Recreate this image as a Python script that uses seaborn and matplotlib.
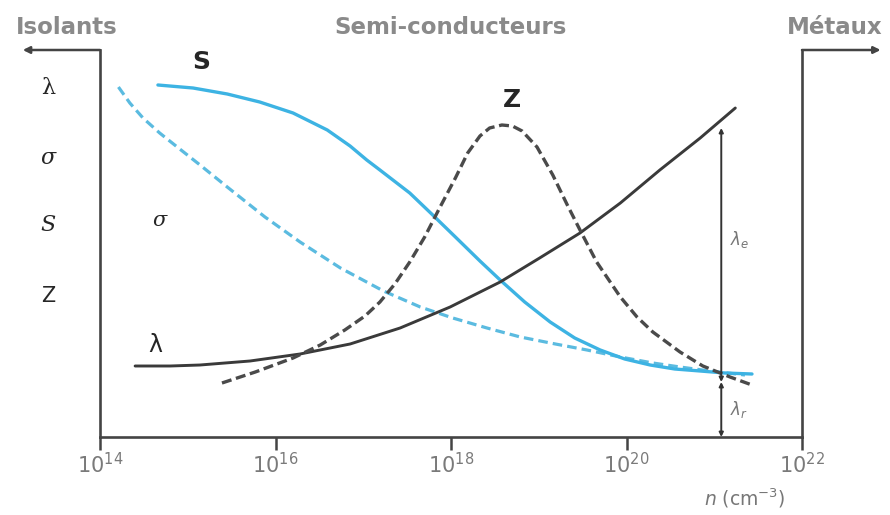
import numpy as np
import pandas as pd
import matplotlib
matplotlib.use("Agg")
import matplotlib.pyplot as plt
import seaborn as sns

sns.set_theme(style="white")
plt.rcParams['font.family'] = ['DejaVu Sans']
plt.rcParams['mathtext.fontset'] = 'dejavusans'

# ---- data (x = log10 of n in cm^-3, y = arbitrary units) ----
s_exp = [14.66, 15.06, 15.45, 15.82, 16.20, 16.59, 16.85, 17.04, 17.19, 17.53, 17.78,
         18.05, 18.33, 18.56, 18.84, 19.13, 19.41, 19.70, 19.98, 20.27, 20.55, 20.84,
         21.12, 21.43]
s_val = [352, 349, 343, 335, 324, 307, 291, 277, 267, 244, 223,
         200, 176, 157, 135, 115, 99, 87, 78, 72, 68, 66, 64, 63]

sigma_exp = [14.21, 14.34, 14.49, 14.68, 14.88, 15.14, 15.45, 15.88, 16.28, 16.74, 17.23,
             17.65, 18.02, 18.41, 18.79, 19.19, 19.55, 19.93, 20.30, 20.61, 20.95, 21.35]
sigma_val = [350, 334, 319, 304, 290, 272, 250, 220, 195, 169, 146,
             130, 119, 109, 100, 93, 87, 80, 74, 70, 66, 62]

lam_exp = [14.40, 14.80, 15.14, 15.71, 16.28, 16.85, 17.42, 17.99, 18.56, 19.01, 19.47,
           19.93, 20.38, 20.84, 21.24]
lam_val = [71, 71, 72, 76, 83, 93, 109, 130, 155, 179, 204, 234, 267, 299, 329]

z_exp = [15.39, 15.77, 16.20, 16.51, 16.79, 17.02, 17.19, 17.36, 17.53, 17.70, 17.87,
         18.05, 18.19, 18.33, 18.44, 18.58, 18.70, 18.81, 18.98, 19.16, 19.32, 19.47,
         19.66, 19.93, 20.12, 20.30, 20.61, 20.87, 21.18, 21.43]
z_val = [54, 65, 79, 92, 107, 121, 135, 153, 175, 200, 229,
         259, 284, 301, 309, 312, 311, 306, 290, 262, 233, 207,
         175, 140, 120, 105, 85, 71, 60, 52]

tick_exps = [14, 16, 18, 20, 22]
tick_labels = ["$10^{14}$", "$10^{16}$", "$10^{18}$", "$10^{20}$", "$10^{22}$"]

arrow_exp = 21.08
lam_top, lam_split = 309, 55

def frame(e, v, name):
    return pd.DataFrame({"n": np.power(10.0, e), "y": v, "curve": name})

blue = "#3db3e3"
dark = "#3a3a3a"

fig = plt.figure(figsize=(8.9, 5.15), dpi=100)
ax = fig.add_axes([100/890, 78/515, 702/890, 387/515])

sns.lineplot(data=frame(sigma_exp, sigma_val, "sigma"), x="n", y="y", ax=ax,
             color="#5bbbe0", lw=2.3, linestyle=(0, (3, 1.6)), sort=False)
sns.lineplot(data=frame(s_exp, s_val, "S"), x="n", y="y", ax=ax,
             color=blue, lw=2.4, sort=False)
sns.lineplot(data=frame(lam_exp, lam_val, "lambda"), x="n", y="y", ax=ax,
             color=dark, lw=2.1, sort=False)
sns.lineplot(data=frame(z_exp, z_val, "Z"), x="n", y="y", ax=ax,
             color="#4a4a4a", lw=2.4, linestyle=(0, (3, 1.4)), sort=False)

ax.set_xscale("log")
ax.set_xlim(1e14, 1e22)
ax.set_ylim(0, 387)
ax.set_xlabel("")
ax.set_ylabel("")
ax.set_yticks([])
ax.set_xticks([10.0**e for e in tick_exps])
ax.set_xticklabels(tick_labels)
ax.xaxis.set_minor_locator(matplotlib.ticker.NullLocator())
ax.tick_params(axis="x", direction="out", length=9, width=1.8, color="#444",
               labelsize=15, labelcolor="#7a7a7a", pad=2, bottom=True)

for side in ["left", "bottom", "right"]:
    ax.spines[side].set_visible(True)
    ax.spines[side].set_color("#444")
    ax.spines[side].set_linewidth(1.9)
ax.spines["top"].set_visible(False)

# corner arrows
ax.annotate("", xy=(-0.11, 1.0), xytext=(0.0, 1.0), xycoords="axes fraction",
            arrowprops=dict(arrowstyle="-|>", color="#444", lw=1.8, mutation_scale=10,
                            shrinkA=0, shrinkB=0), annotation_clip=False)
ax.annotate("", xy=(1.112, 1.0), xytext=(1.0, 1.0), xycoords="axes fraction",
            arrowprops=dict(arrowstyle="-|>", color="#444", lw=1.8, mutation_scale=10,
                            shrinkA=0, shrinkB=0), annotation_clip=False)

# lambda_e / lambda_r arrows
xa = 10.0**arrow_exp
ax.annotate("", xy=(xa, lam_top), xytext=(xa, lam_split),
            arrowprops=dict(arrowstyle="<|-|>", color="#333", lw=1.4, mutation_scale=6,
                            shrinkA=0, shrinkB=0))
ax.annotate("", xy=(xa, lam_split), xytext=(xa, 0),
            arrowprops=dict(arrowstyle="<|-|>", color="#333", lw=1.4, mutation_scale=6,
                            shrinkA=0, shrinkB=0), annotation_clip=False)
ax.text(10.0**21.18, 197, r"$\lambda_e$", color="#777", fontsize=12, va="center")
ax.text(10.0**21.18, 27, r"$\lambda_r$", color="#777", fontsize=12, va="center")

# top headings
head = dict(color="#8a8a8a", fontsize=16.5, fontweight="bold", ha="center", va="center")
fig.text(67/890, 1 - 28/515, "Isolants", **head)
fig.text(451/890, 1 - 28/515, "Semi-conducteurs", **head)
fig.text(835/890, 1 - 28/515, "Métaux", **head)

# left-side symbols
fig.text(48/890, 1 - 88/515, "λ", family="DejaVu Serif", fontsize=16, ha="center", va="center")
fig.text(48/890, 1 - 158/515, "σ", family="DejaVu Serif", style="italic", fontsize=16,
         ha="center", va="center")
fig.text(48/890, 1 - 225/515, "S", family="DejaVu Serif", style="italic", fontsize=16,
         ha="center", va="center")
fig.text(48/890, 1 - 296/515, "Z", fontsize=15, ha="center", va="center")

# in-plot labels
fig.text(201/890, 1 - 62/515, "S", fontsize=18, fontweight="bold", ha="center", va="center")
fig.text(512/890, 1 - 100/515, "Z", fontsize=18, fontweight="bold", ha="center", va="center")
fig.text(160/890, 1 - 220/515, "σ", family="DejaVu Serif", style="italic", fontsize=15,
         ha="center", va="center")
fig.text(155/890, 1 - 345/515, "λ", fontsize=17, ha="center", va="center")

fig.text(745/890, 1 - 498/515, r"$n$ (cm$^{-3}$)", color="#777", fontsize=13.5,
         ha="center", va="center")

fig.savefig("out.png", dpi=100, facecolor="white")
